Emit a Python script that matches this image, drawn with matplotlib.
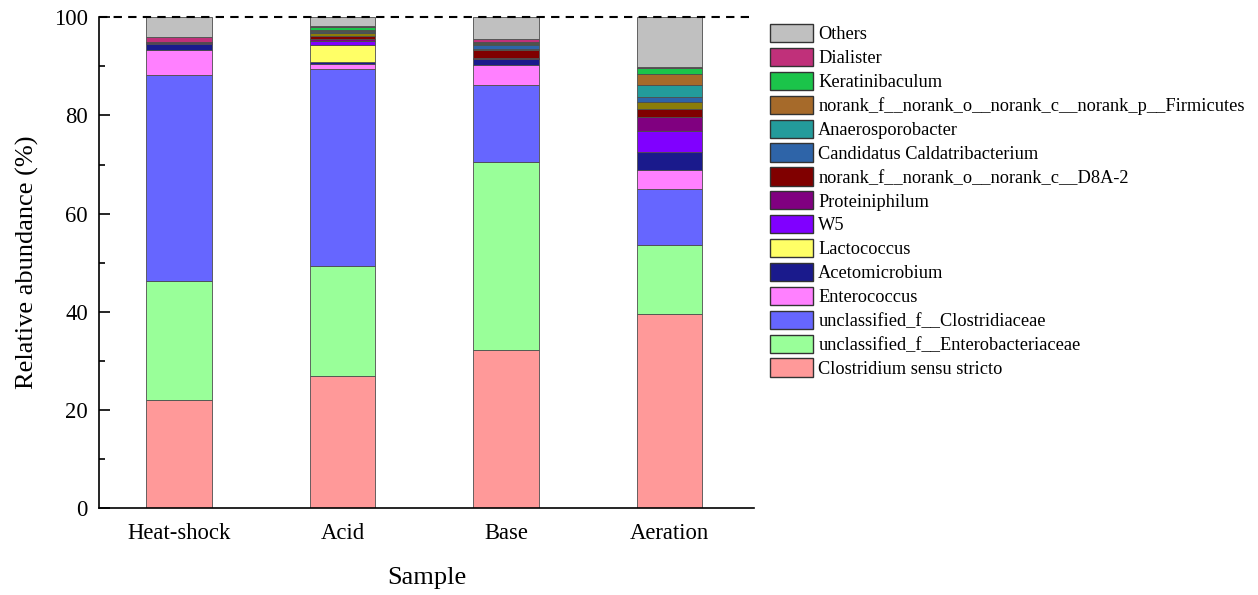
import matplotlib
matplotlib.use("Agg")
import matplotlib.pyplot as plt
from matplotlib.patches import Patch
import numpy as np

plt.rcParams['font.family'] = ['Liberation Serif', 'DejaVu Serif']

samples = ["Heat-shock", "Acid", "Base", "Aeration"]

# stacked from bottom to top
taxa = [
    "Clostridium sensu stricto",
    "unclassified_f__Enterobacteriaceae",
    "unclassified_f__Clostridiaceae",
    "Enterococcus",
    "Acetomicrobium",
    "Lactococcus",
    "W5",
    "Proteiniphilum",
    "norank_f__norank_o__norank_c__D8A-2",
    "_unlisted",
    "Candidatus Caldatribacterium",
    "Anaerosporobacter",
    "norank_f__norank_o__norank_c__norank_p__Firmicutes",
    "Keratinibaculum",
    "Dialister",
    "Others",
]

colors = [
    "#FF9999", "#99FF99", "#6666FF", "#FF80FF", "#1A1A8C", "#FFFF66",
    "#8000FF", "#800080", "#800000", "#8B7D0A", "#2E64A8", "#239B9B",
    "#A66A2A", "#1BC44A", "#C0307A", "#C0C0C0",
]

heat_shock = [22.0, 24.3, 42.0, 5.0, 1.3, 0.0, 0.1, 0.2, 0.1, 0.0, 0.0, 0.0, 0.0, 0.0, 1.0, 4.0]
acid       = [26.9, 22.4, 40.25, 0.85, 0.5, 3.4, 0.8, 0.4, 0.7, 0.6, 0.1, 0.3, 0.3, 0.5, 0.2, 1.8]
base       = [32.3, 38.2, 15.7, 4.0, 1.2, 0.0, 0.1, 0.3, 1.5, 0.2, 0.9, 0.2, 0.2, 0.1, 0.6, 4.5]
aeration   = [39.5, 14.1, 11.5, 3.7, 3.8, 0.0, 4.2, 2.9, 1.6, 1.5, 0.9, 2.5, 2.2, 1.2, 0.2, 10.2]

data = np.array([heat_shock, acid, base, aeration]).T

fig = plt.figure(figsize=(12.58, 5.95), dpi=100)
ax = fig.add_axes([0.0787, 0.146, 0.521, 0.825])

x = np.arange(len(samples))
bottom = np.zeros(len(samples))
for name, col, vals in zip(taxa, colors, data):
    ax.bar(x, vals, 0.4, bottom=bottom, color=col, edgecolor="0.3", linewidth=0.6)
    bottom += vals

ax.set_xlim(-0.49, 3.52)
ax.set_ylim(0, 100)
ax.set_xticks(x)
ax.set_xticklabels(samples, fontsize=16.3)
ax.set_yticks([0, 20, 40, 60, 80, 100])
ax.set_yticks([10, 30, 50, 70, 90], minor=True)
ax.tick_params(axis='y', which='major', length=8, width=1.2, labelsize=16.3, direction='in', pad=8)
ax.tick_params(axis='y', which='minor', length=4, width=1.2, direction='in')
ax.tick_params(axis='x', length=0, labelsize=16.3, pad=11)

ax.spines['right'].set_visible(False)
ax.spines['top'].set_visible(False)
ax.spines['left'].set_linewidth(1.2)
ax.spines['bottom'].set_linewidth(1.2)
ax.axhline(100, color='black', linestyle=(0, (4, 3)), linewidth=1.5, clip_on=False)

ax.set_ylabel("Relative abundance (%)", fontsize=19, labelpad=11)
ax.set_xlabel("Sample", fontsize=19, labelpad=16)

legend_items = [(n, c) for n, c in zip(taxa, colors) if not n.startswith("_")][::-1]
leg_handles = [Patch(facecolor=c, edgecolor="0.2", linewidth=1.0, label=n) for n, c in legend_items]
fig.legend(handles=leg_handles, loc='upper left', bbox_to_anchor=(0.606, 0.972),
           frameon=False, fontsize=13.2, handlelength=2.35, handleheight=1.15,
           labelspacing=0.25, handletextpad=0.3, borderaxespad=0)

fig.savefig("out.png", dpi=100)
